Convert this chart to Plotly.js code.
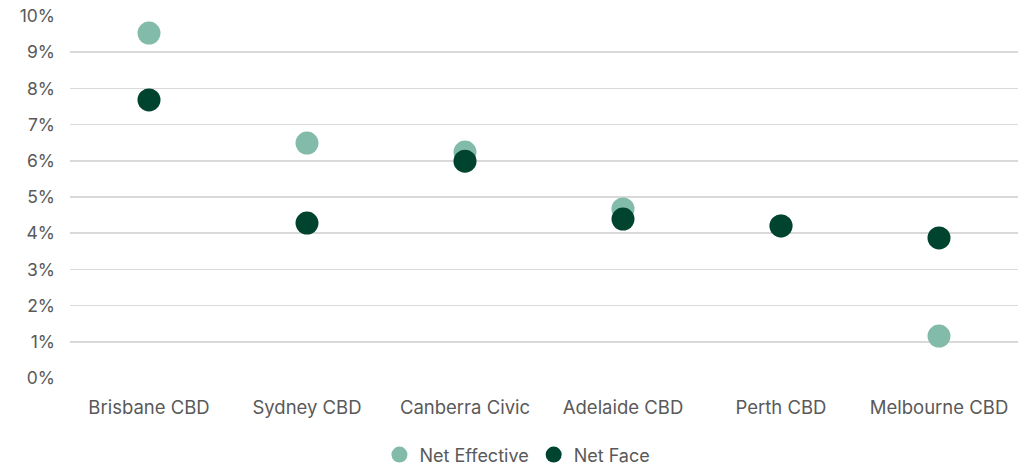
<!DOCTYPE html>
<html><head><meta charset="utf-8">
<script src="https://cdn.plot.ly/plotly-3.0.1.min.js"></script>
<style>html,body{margin:0;padding:0;background:#fff}#c{width:1018px;height:468px}</style>
</head><body><div id="c"></div>
<script>
const categories = ["Brisbane CBD","Sydney CBD","Canberra Civic","Adelaide CBD","Perth CBD","Melbourne CBD"];
const netEffective = [9.53, 6.49, 6.24, 4.67, 4.20, 1.16];
const netFace = [7.68, 4.28, 5.99, 4.39, 4.20, 3.87];
const yTickVals = [0,1,2,3,4,5,6,7,8,9,10];
const yTickText = yTickVals.map(v => v + "%");

const traces = [
  {x: categories, y: netEffective, name: "Net Effective", type: "scatter", mode: "markers",
   marker: {color: "#82BBAA", size: 23}},
  {x: categories, y: netFace, name: "Net Face", type: "scatter", mode: "markers",
   marker: {color: "#00432F", size: 23}}
];
const layout = {
  width: 1018, height: 468,
  margin: {l: 70, r: 0, t: 16, b: 90},
  paper_bgcolor: "#fff", plot_bgcolor: "#fff",
  font: {family: "Inter, 'Noto Sans', sans-serif", size: 17, color: "#595959"},
  showlegend: true,
  legend: {orientation: "h", x: 0.472, xanchor: "center", yref: "container", y: 0.028, yanchor: "middle",
           font: {size: 18, color: "#595959"}, tracegroupgap: 0},
  xaxis: {type: "category", range: [-0.5, 5.5], showgrid: false, zeroline: false, automargin: false,
          showline: false, ticks: "", ticklabelstandoff: 16, tickfont: {size: 18.5}, fixedrange: true},
  yaxis: {range: [0, 10], tickvals: yTickVals, ticktext: yTickText, showgrid: true, automargin: false,
          gridcolor: "#D9D9D9", gridwidth: 1.5, zeroline: false, showline: false,
          ticks: "", ticklabelstandoff: 14, tickfont: {size: 17.5}, fixedrange: true}
};
Plotly.newPlot("c", traces, layout, {displayModeBar: false, staticPlot: true});
</script>
</body></html>
